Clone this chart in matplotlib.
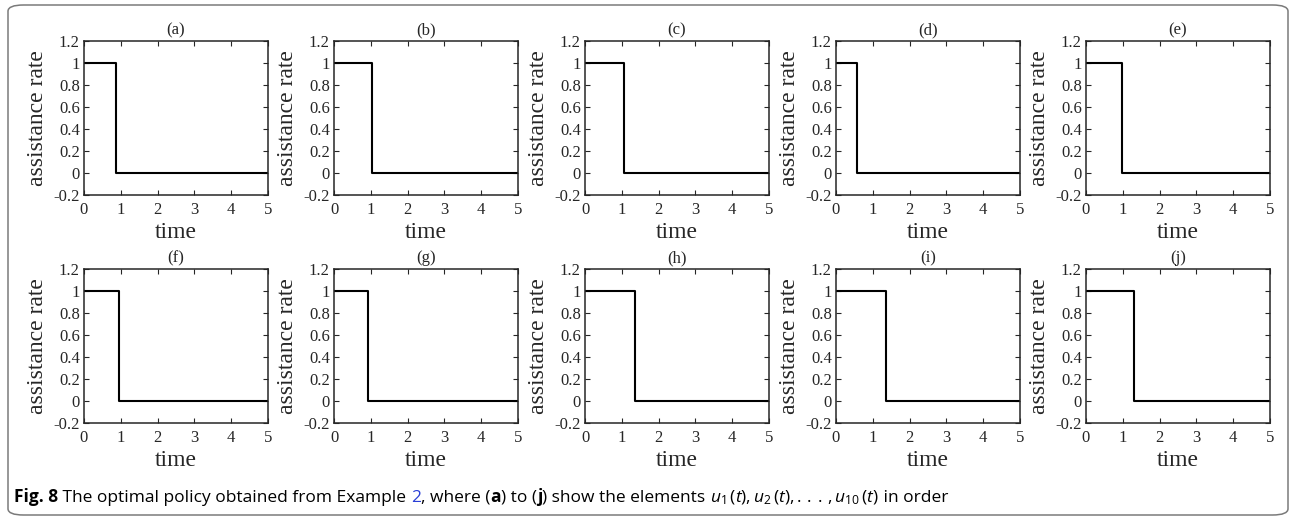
import matplotlib
matplotlib.use('Agg')
import matplotlib.pyplot as plt
from matplotlib.patches import FancyBboxPatch

# panel labels and switching time of each control u_i(t)
PANELS = ['(a)', '(b)', '(c)', '(d)', '(e)', '(f)', '(g)', '(h)', '(i)', '(j)']
SWITCH_TIMES = [0.88, 1.03, 1.05, 0.58, 0.98, 0.95, 0.93, 1.35, 1.35, 1.30]
U_ON = 1.0
U_OFF = 0.0
T_END = 5.0

XTICKS = [0, 1, 2, 3, 4, 5]
YTICKS = [-0.2, 0, 0.2, 0.4, 0.6, 0.8, 1, 1.2]
YTICK_LABELS = ['-0.2', '0', '0.2', '0.4', '0.6', '0.8', '1', '1.2']

CAPTION = [
    ('Fig. 8', 'bold', 'black'),
    (' The optimal policy obtained from Example ', 'normal', 'black'),
    ('2', 'normal', '#2a3fd6'),
    (', where (', 'normal', 'black'),
    ('a', 'bold', 'black'),
    (') to (', 'normal', 'black'),
    ('j', 'bold', 'black'),
    (') show the elements ', 'normal', 'black'),
    (r'$u_1\,(t), u_2\,(t), .\,.\,.\,, u_{10}\,(t)$', 'normal', 'black'),
    (' in order', 'normal', 'black'),
]

plt.rcParams['axes.unicode_minus'] = False
plt.rcParams['mathtext.fontset'] = 'custom'
plt.rcParams['mathtext.rm'] = 'Open Sans'
plt.rcParams['mathtext.it'] = 'Open Sans:italic'

W, H = 1294, 519
fig = plt.figure(figsize=(W / 100, H / 100), dpi=100)

# rounded frame around figure + caption
frame = FancyBboxPatch((8 / W, 4 / H), 1280 / W, 510 / H,
                       boxstyle='round,pad=0,rounding_size=0.012',
                       transform=fig.transFigure, fill=False,
                       edgecolor='#7a7a7a', linewidth=1.1)
fig.patches.append(frame)

col_left = [84, 334, 585, 836, 1086]
row_top = [41, 269]
ax_w, ax_h = 184, 154

serif = 'Liberation Serif'
ink = '#262626'
for i, (lab, ts) in enumerate(zip(PANELS, SWITCH_TIMES)):
    r, c = divmod(i, 5)
    ax = fig.add_axes([col_left[c] / W, 1 - (row_top[r] + ax_h) / H, ax_w / W, ax_h / H])
    ax.plot([0, ts, ts, T_END], [U_ON, U_ON, U_OFF, U_OFF], color='black', lw=1.5)
    ax.set_xlim(0, T_END)
    ax.set_ylim(-0.2, 1.2)
    ax.set_xticks(XTICKS)
    ax.set_xticklabels([str(x) for x in XTICKS], fontfamily=serif, fontsize=12)
    ax.set_yticks(YTICKS)
    ax.set_yticklabels(YTICK_LABELS, fontfamily=serif, fontsize=12)
    ax.tick_params(direction='in', top=True, right=True, length=3.5, width=0.8,
                   color=ink, labelcolor=ink, pad=3)
    ax.tick_params(axis='x', pad=5)
    for sp in ax.spines.values():
        sp.set_linewidth(1.1)
        sp.set_color(ink)
    ax.set_title(lab, fontfamily=serif, fontsize=12, pad=5, color=ink)
    ax.set_xlabel('time', fontfamily=serif, fontsize=17, labelpad=3, color=ink)
    ax.set_ylabel('assistance rate', fontfamily=serif, fontsize=17, labelpad=4, color=ink)

# caption, drawn piece by piece
fig.canvas.draw()
renderer = fig.canvas.get_renderer()
x = 14
y = 1 - 502 / H
cap_size = 12.5
for txt, weight, col in CAPTION:
    t = fig.text(x / W, y, txt, fontfamily='Open Sans', fontweight=weight,
                 color=col, fontsize=cap_size, va='baseline', ha='left')
    if '$' in txt:
        wpx = t.get_window_extent(renderer).width
    else:
        m = fig.text(0, 0, '|' + txt + '|', fontfamily='Open Sans', fontweight=weight, fontsize=cap_size)
        b = fig.text(0, 0, '||', fontfamily='Open Sans', fontweight=weight, fontsize=cap_size)
        wpx = m.get_window_extent(renderer).width - b.get_window_extent(renderer).width
        m.remove()
        b.remove()
    x += wpx

fig.savefig('out.png', dpi=100)
